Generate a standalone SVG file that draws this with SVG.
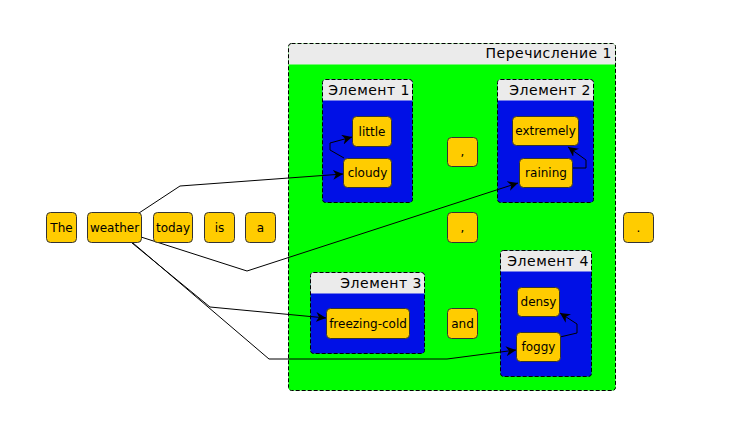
<svg xmlns="http://www.w3.org/2000/svg" width="747" height="441" viewBox="0 0 747 441">
<defs>
<marker id="ah" viewBox="0 0 10 10" refX="10" refY="5" markerWidth="10" markerHeight="10" markerUnits="userSpaceOnUse" orient="auto">
<path d="M0,0 L10,5 L0,10 L3,5 Z" fill="#000"/>
</marker>
</defs>
<style>
.n{fill:#ffcc00;stroke:#333;stroke-width:1}
.t{font-family:"DejaVu Sans",sans-serif;font-size:12px;fill:#000;text-anchor:middle}
.ct{font-family:"DejaVu Sans",sans-serif;font-size:14px;fill:#000;text-anchor:end;letter-spacing:0.5px}
.hd{fill:#ebebeb}
.cb{fill:none;stroke:#000;stroke-width:1;stroke-dasharray:4,2}
.e{fill:none;stroke:#000;stroke-width:1}
.ea{fill:none;stroke:#000;stroke-width:1;marker-end:url(#ah)}
</style>
<rect width="747" height="441" fill="#fff"/>
<g id="cluster_enum">
<rect x="288.5" y="43.5" width="327" height="347" rx="3" fill="#00ff00"/>
<path class="hd" d="M291.5,43.5 H612.5 Q615.5,43.5 615.5,46.5 V64.5 H288.5 V46.5 Q288.5,43.5 291.5,43.5 Z"/>
<rect x="288.5" y="43.5" width="327" height="347" rx="3" class="cb"/>
<text class="ct" x="612" y="58">Перечисление 1</text>
</g>
<g id="cluster_el1">
<rect x="322.5" y="79.5" width="90" height="123" rx="3" fill="#0010e6"/>
<path class="hd" d="M325.5,79.5 H409.5 Q412.5,79.5 412.5,82.5 V100.5 H322.5 V82.5 Q322.5,79.5 325.5,79.5 Z"/>
<rect x="322.5" y="79.5" width="90" height="123" rx="3" class="cb"/>
<text class="ct" x="410" y="95">Элемент 1</text>
</g>
<g id="cluster_el2">
<rect x="497.5" y="79.5" width="96" height="123" rx="3" fill="#0010e6"/>
<path class="hd" d="M500.5,79.5 H590.5 Q593.5,79.5 593.5,82.5 V100.5 H497.5 V82.5 Q497.5,79.5 500.5,79.5 Z"/>
<rect x="497.5" y="79.5" width="96" height="123" rx="3" class="cb"/>
<text class="ct" x="591" y="95">Элемент 2</text>
</g>
<g id="cluster_el3">
<rect x="310.5" y="272.5" width="114" height="81" rx="3" fill="#0010e6"/>
<path class="hd" d="M313.5,272.5 H421.5 Q424.5,272.5 424.5,275.5 V293.5 H310.5 V275.5 Q310.5,272.5 313.5,272.5 Z"/>
<rect x="310.5" y="272.5" width="114" height="81" rx="3" class="cb"/>
<text class="ct" x="422" y="288">Элемент 3</text>
</g>
<g id="cluster_el4">
<rect x="500.5" y="250.5" width="91" height="126" rx="3" fill="#0010e6"/>
<path class="hd" d="M503.5,250.5 H588.5 Q591.5,250.5 591.5,253.5 V271.5 H500.5 V253.5 Q500.5,250.5 503.5,250.5 Z"/>
<rect x="500.5" y="250.5" width="91" height="126" rx="3" class="cb"/>
<text class="ct" x="589" y="266">Элемент 4</text>
</g>
<g id="edges">
<polyline class="ea" points="139,213 180,186 343,174"/>
<polyline class="ea" points="141,237 247,271 518,183"/>
<polyline class="ea" points="132,243 210,307 326,318"/>
<polyline class="ea" points="133,243 269,359 447,359 516,350"/>
<polyline class="ea" points="344,158 330,150 330,143 352,137"/>
<polyline class="ea" points="572,168 586,168 586,160 568,147"/>
<polyline class="ea" points="560,337 577,333 577,324 560,313"/>
</g>
<g id="n_the"><rect class="n" x="46.5" y="212.5" width="30" height="30" rx="4"/><text class="t" x="61.5" y="231.5">The</text></g>
<g id="n_weather"><rect class="n" x="87.5" y="212.5" width="54" height="30" rx="4"/><text class="t" x="114.5" y="231.5">weather</text></g>
<g id="n_today"><rect class="n" x="153.5" y="212.5" width="39" height="30" rx="4"/><text class="t" x="173" y="231.5">today</text></g>
<g id="n_is"><rect class="n" x="204.5" y="212.5" width="30" height="30" rx="4"/><text class="t" x="219.5" y="231.5">is</text></g>
<g id="n_a"><rect class="n" x="245.5" y="212.5" width="30" height="30" rx="4"/><text class="t" x="260.5" y="231.5">a</text></g>
<g id="n_little"><rect class="n" x="352.5" y="116.5" width="39" height="30" rx="4"/><text class="t" x="372" y="135.5">little</text></g>
<g id="n_cloudy"><rect class="n" x="343.5" y="158.5" width="48" height="29" rx="4"/><text class="t" x="367.5" y="177">cloudy</text></g>
<g id="n_extremely"><rect class="n" x="512.5" y="116.5" width="66" height="29" rx="4"/><text class="t" x="545.5" y="135">extremely</text></g>
<g id="n_raining"><rect class="n" x="519.5" y="158.5" width="53" height="29" rx="4"/><text class="t" x="546" y="177">raining</text></g>
<g id="n_comma1"><rect class="n" x="447.5" y="137.5" width="30" height="29" rx="4"/><text class="t" x="462.5" y="156">,</text></g>
<g id="n_comma2"><rect class="n" x="447.5" y="212.5" width="30" height="30" rx="4"/><text class="t" x="462.5" y="231.5">,</text></g>
<g id="n_freezing"><rect class="n" x="326.5" y="308.5" width="83" height="30" rx="4"/><text class="t" x="368" y="327.5">freezing-cold</text></g>
<g id="n_and"><rect class="n" x="447.5" y="308.5" width="30" height="30" rx="4"/><text class="t" x="462.5" y="327.5">and</text></g>
<g id="n_densy"><rect class="n" x="517.5" y="287.5" width="42" height="29" rx="4"/><text class="t" x="538.5" y="306">densy</text></g>
<g id="n_foggy"><rect class="n" x="516.5" y="332.5" width="44" height="29" rx="4"/><text class="t" x="538.5" y="351">foggy</text></g>
<g id="n_period"><rect class="n" x="623.5" y="212.5" width="30" height="30" rx="4"/><text class="t" x="638.5" y="231.5">.</text></g>
</svg>
